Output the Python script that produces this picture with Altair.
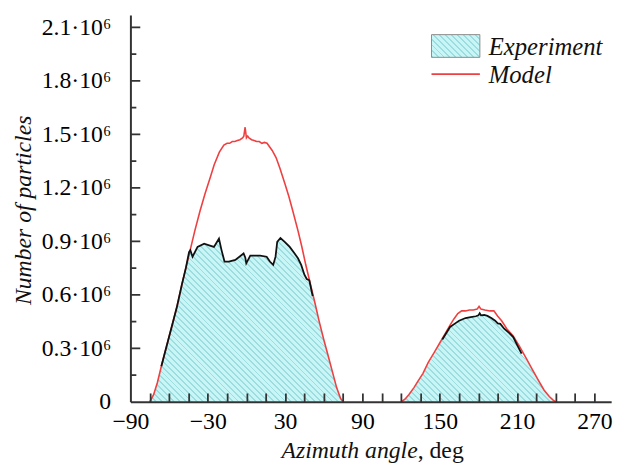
import math
import altair as alt
import pandas as pd

# ---------------- data (values in units of 10^6 particles) ----------------
MODEL_ANGLE_1 = [-75, -72, -69, -66, -62, -58, -54, -50, -47, -44, -40, -36, -32, -28, -25, -21,
                 -17.5, -15, -13, -11, -9, -7, -5, -3, -2, -1, 0, 1, 2, 4, 6, 8, 10, 12, 14, 16,
                 20, 23, 26, 30, 33, 36, 40, 43, 46, 50, 53, 56.5, 60, 63, 66.5, 70, 73, 75]
MODEL_VALUE_1 = [0, 0.04, 0.11, 0.20, 0.31, 0.42, 0.53, 0.66, 0.75, 0.84, 0.96, 1.07, 1.17, 1.26, 1.33, 1.40,
                 1.44, 1.45, 1.45, 1.46, 1.46, 1.465, 1.47, 1.48, 1.49, 1.54, 1.48, 1.49, 1.48, 1.47, 1.465, 1.46, 1.46, 1.45, 1.455, 1.45,
                 1.41, 1.37, 1.31, 1.22, 1.15, 1.07, 0.96, 0.87, 0.77, 0.65, 0.56, 0.45, 0.35, 0.27, 0.175, 0.08, 0.02, 0]
MODEL_ANGLE_2 = [120, 123, 126, 130, 133, 137, 141, 146, 150, 154, 158, 161, 164, 167, 170, 173, 176, 179,
                 180.5, 182, 185, 189, 192, 195, 198, 202, 207, 212, 217, 222, 227, 231, 235, 238, 240]
MODEL_VALUE_2 = [0, 0.015, 0.04, 0.08, 0.115, 0.16, 0.22, 0.28, 0.33, 0.38, 0.43, 0.465, 0.495, 0.51, 0.51, 0.515, 0.515, 0.52,
                 0.535, 0.52, 0.515, 0.51, 0.51, 0.48, 0.455, 0.41, 0.37, 0.31, 0.245, 0.18, 0.115, 0.065, 0.03, 0.01, 0]

EXP_ANGLE = [-75, -72, -69, -66, -62, -58, -54, -50, -47, -44.5, -43.5, -41.8, -37.9, -32.8, -28.9, -25.2,
             -21.3, -19.3, -17.0, -13.6, -8.6, -2.2, -0.9, -0.1, 3.0, 10.6, 15.7, 18.2, 20.8, 22.6, 23.9,
             26.4, 29.7, 33.6, 37.4, 40.0, 42.5, 45.0, 46.8, 48.8, 51.4, 53, 56.5, 60, 63, 66.5, 70, 73, 75,
             120, 126, 133, 140, 146, 152, 158, 162, 165, 170, 174, 178, 180, 181, 182, 184.5, 187, 190,
             193, 195, 197, 200, 204, 207, 210, 213.5, 217, 222, 227, 231, 235, 238, 240]
EXP_VALUE = [0, 0.04, 0.11, 0.20, 0.31, 0.42, 0.53, 0.66, 0.75, 0.84, 0.85, 0.814, 0.869, 0.887, 0.878, 0.869,
             0.915, 0.851, 0.787, 0.787, 0.796, 0.832, 0.81, 0.777, 0.82, 0.82, 0.814, 0.787, 0.768, 0.814, 0.897,
             0.919, 0.897, 0.869, 0.832, 0.805, 0.768, 0.713, 0.689, 0.682, 0.593, 0.56, 0.45, 0.35, 0.27, 0.175, 0.08, 0.02, 0,
             0, 0.035, 0.11, 0.195, 0.27, 0.35, 0.42, 0.44, 0.455, 0.47, 0.475, 0.48, 0.485, 0.497, 0.485, 0.487, 0.482, 0.47,
             0.455, 0.44, 0.437, 0.41, 0.385, 0.363, 0.32, 0.27, 0.235, 0.18, 0.115, 0.065, 0.03, 0.01, 0]

X_DOMAIN = [-90, 283]
Y_DOMAIN = [0, 2.17]
X_LABEL_VALUES = [-90, -30, 30, 90, 150, 210, 270]
X_TICK_VALUES = [-75, -60, -45, -30, -15, 0, 15, 30, 45, 60, 75, 90, 105, 120, 135, 150, 165, 180,
                 195, 210, 225, 240, 255, 270]
Y_LABEL_VALUES = [0, 0.3, 0.6, 0.9, 1.2, 1.5, 1.8, 2.1]
Y_MAJOR_TICKS = [0.3, 0.6, 0.9, 1.2, 1.5, 1.8, 2.1]
Y_MINOR_TICKS = [0.15, 0.45, 0.75, 1.05, 1.35, 1.65, 1.95]

LEGEND_LABELS = ["Experiment", "Model"]
X_TITLE_ITALIC = "Azimuth angle"
X_TITLE_PLAIN = ", deg"
Y_TITLE = "Number of particles"

# ---------------- style ----------------
W, H = 487, 392
FONT = "Liberation Serif"
FS = 24
RED = "#ee4040"
AXIS_COLOR = "#333333"
HATCH_BG = "#c8f6f6"
HATCH_FG = "#9ddcdf"


def hatch(w, h, spacing=4.2, frac=0.33):
    r = h / w
    c = (1 + r) / (1 + r * r)
    span = (w + h) / math.sqrt(2)
    n = max(1, round(span / spacing))
    stops = []
    for i in range(n):
        o0 = round(i / n, 6)
        o1 = round((i + frac) / n, 6)
        o2 = round((i + 1) / n, 6)
        stops += [{"offset": o0, "color": HATCH_FG}, {"offset": o1, "color": HATCH_FG},
                  {"offset": o1, "color": HATCH_BG}, {"offset": o2, "color": HATCH_BG}]
    return {"gradient": "linear", "x1": 0, "y1": 1, "x2": c, "y2": 1 - c * r, "stops": stops}


px_per_deg = W / (X_DOMAIN[1] - X_DOMAIN[0])
area_w = (max(EXP_ANGLE) - min(EXP_ANGLE)) * px_per_deg
area_h = max(EXP_VALUE) / Y_DOMAIN[1] * H

exp_df = pd.DataFrame({"angle": EXP_ANGLE, "value": EXP_VALUE})
model_df = pd.DataFrame({
    "angle": MODEL_ANGLE_1 + MODEL_ANGLE_2,
    "value": MODEL_VALUE_1 + MODEL_VALUE_2,
    "peak": [1] * len(MODEL_ANGLE_1) + [2] * len(MODEL_ANGLE_2),
})

xs = alt.Scale(domain=X_DOMAIN, nice=False, zero=False)
ys = alt.Scale(domain=Y_DOMAIN, nice=False, zero=False)

main_x_axis = alt.Axis(values=X_LABEL_VALUES, tickSize=0, ticks=False, grid=False, domain=True,
                       domainColor=AXIS_COLOR, domainWidth=2, labelFont=FONT, labelFontSize=FS,
                       labelColor="black", labelPadding=8, labelFlush=False, labelOverlap=False,
                       labelExpr="replace(datum.label, '-', '–')", title=None, zindex=1, orient="bottom")
main_y_axis = alt.Axis(values=Y_LABEL_VALUES, tickSize=0, ticks=False, grid=False, domain=True,
                       domainColor=AXIS_COLOR, domainWidth=2, labelFont=FONT, labelFontSize=FS,
                       labelColor="black", labelPadding=20, labelFlush=False, labelOverlap=False,
                       labelExpr="datum.value == 0 ? '0' : format(datum.value, '.1f') + '·10⁶'",
                       title=None, zindex=1, orient="left")
tick_x_axis = alt.Axis(values=X_TICK_VALUES, labels=False, domain=False, grid=False, ticks=True,
                       tickSize=9, tickWidth=1.8, tickColor=AXIS_COLOR, offset=-9, title=None,
                       zindex=1, orient="bottom")

area = alt.Chart(exp_df).mark_area(fill=hatch(area_w, area_h), interpolate="linear").encode(
    x=alt.X("angle:Q", scale=xs, axis=main_x_axis),
    y=alt.Y("value:Q", scale=ys, axis=main_y_axis),
)

red = alt.Chart(model_df).mark_line(color=RED, strokeWidth=1.6).encode(
    x=alt.X("angle:Q", scale=xs, axis=tick_x_axis),
    y=alt.Y("value:Q", scale=ys, axis=None),
    detail="peak:N",
)

black = alt.Chart(exp_df).transform_filter(
    "(datum.angle >= -66 && datum.angle <= 52) || (datum.angle >= 150 && datum.angle <= 214)"
).transform_calculate(peak="datum.angle < 100 ? 1 : 2").mark_line(color="#111111", strokeWidth=1.8).encode(
    x=alt.X("angle:Q", scale=xs, axis=None),
    y=alt.Y("value:Q", scale=ys, axis=None),
    detail="peak:N",
)

# inward y ticks
y_major = alt.Chart(pd.DataFrame({"v": Y_MAJOR_TICKS})).mark_rule(color=AXIS_COLOR, strokeWidth=1.8).encode(
    y=alt.Y("v:Q", scale=ys, axis=None), x=alt.value(0), x2=alt.value(10))
y_minor = alt.Chart(pd.DataFrame({"v": Y_MINOR_TICKS})).mark_rule(color=AXIS_COLOR, strokeWidth=1.8).encode(
    y=alt.Y("v:Q", scale=ys, axis=None), x=alt.value(0), x2=alt.value(6))

# legend
LFS = 25
leg_rect = alt.Chart(pd.DataFrame({"t": [LEGEND_LABELS[0]]})).mark_rect(
    fill=hatch(49, 23), stroke="#8a8a8a", strokeWidth=1
).encode(x=alt.value(305), x2=alt.value(354), y=alt.value(20), y2=alt.value(43))
leg_line = alt.Chart(pd.DataFrame({"t": [LEGEND_LABELS[1]]})).mark_rule(color=RED, strokeWidth=1.6).encode(
    x=alt.value(305), x2=alt.value(354), y=alt.value(60))
leg_t1 = alt.Chart(pd.DataFrame({"t": [LEGEND_LABELS[0]]})).mark_text(
    font=FONT, fontSize=LFS, fontStyle="italic", align="left", baseline="middle", color="#111"
).encode(x=alt.value(363), y=alt.value(33), text="t:N")
leg_t2 = alt.Chart(pd.DataFrame({"t": [LEGEND_LABELS[1]]})).mark_text(
    font=FONT, fontSize=LFS, fontStyle="italic", align="left", baseline="middle", color="#111"
).encode(x=alt.value(363), y=alt.value(61), text="t:N")

# axis titles
xt1 = alt.Chart(pd.DataFrame({"t": [X_TITLE_ITALIC]})).mark_text(
    font=FONT, fontSize=FS, fontStyle="italic", align="right", baseline="alphabetic", color="#111"
).encode(x=alt.value(291), y=alt.value(449), text="t:N")
xt2 = alt.Chart(pd.DataFrame({"t": [X_TITLE_PLAIN]})).mark_text(
    font=FONT, fontSize=FS, align="left", baseline="alphabetic", color="#111"
).encode(x=alt.value(291), y=alt.value(449), text="t:N")
yt = alt.Chart(pd.DataFrame({"t": [Y_TITLE]})).mark_text(
    font=FONT, fontSize=FS, fontStyle="italic", align="center", baseline="middle", angle=270, color="#111"
).encode(x=alt.value(-108), y=alt.value(198), text="t:N")

chart = alt.layer(area, red, black, y_major, y_minor, leg_rect, leg_line, leg_t1, leg_t2, xt1, xt2, yt).resolve_axis(
    x="independent", y="independent"
).properties(
    width=W, height=H,
    autosize=alt.AutoSizeParams(type="none"),
    padding={"left": 124, "top": 4, "right": 13, "bottom": 62},
).configure_view(stroke=None)

chart.save("out.html", embed_options={"renderer": "svg", "actions": False})
